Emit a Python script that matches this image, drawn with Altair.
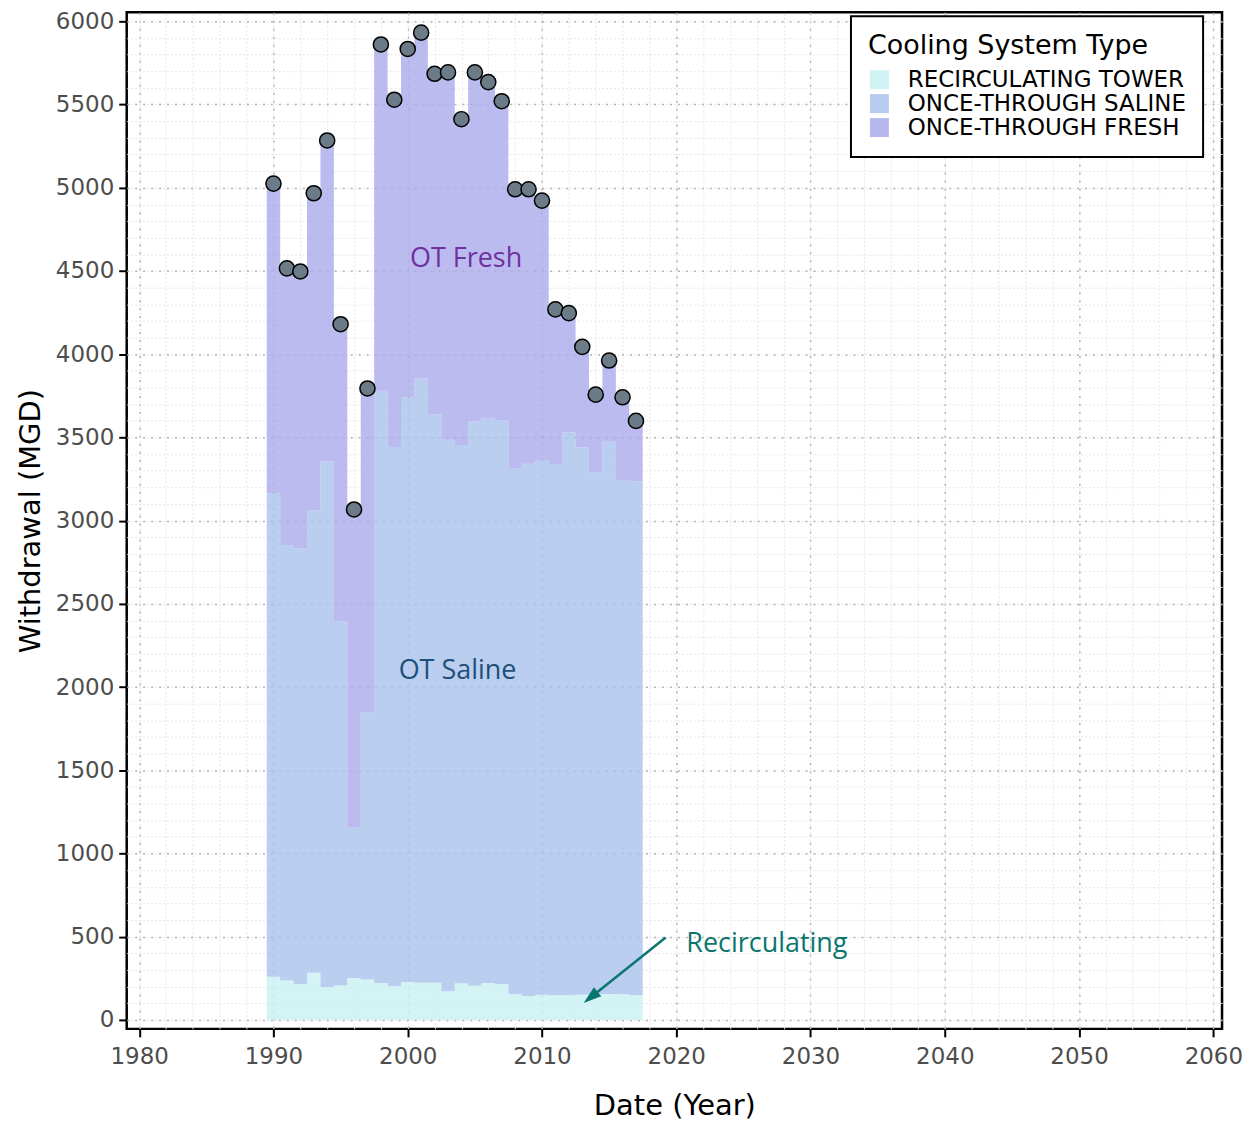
import altair as alt
import pandas as pd

# ---------------- data ----------------
years = list(range(1990, 2018))
types = ["RECIRCULATING TOWER", "ONCE-THROUGH SALINE", "ONCE-THROUGH FRESH"]
recirc = [259, 237, 215, 283, 197, 207, 251, 243, 221, 202, 227, 223, 223, 172,
          220, 205, 221, 215, 154, 144, 151, 148, 148, 151, 154, 156, 154, 148]
saline = [2904, 2616, 2617, 2778, 3159, 2188, 908, 1604, 3560, 3240, 3514, 3631,
          3416, 3314, 3234, 3390, 3394, 3386, 3162, 3198, 3209, 3192, 3381, 3289,
          3136, 3318, 3090, 3088]
fresh = [1862, 1663, 1665, 1906, 1928, 1785, 1908, 1947, 2080, 2087, 2093, 2078,
         2046, 2207, 1958, 2098, 2020, 1919, 1675, 1649, 1563, 929, 718, 604,
         467, 488, 497, 363]

x_ticks = [1980, 1990, 2000, 2010, 2020, 2030, 2040, 2050, 2060]
y_ticks = [0, 500, 1000, 1500, 2000, 2500, 3000, 3500, 4000, 4500, 5000, 5500, 6000]
x_minor = list(range(1980, 2061, 2))
y_minor = list(range(0, 6001, 100))

area_colors = ["#C8F0F2", "#A9C2EC", "#AAAAEC"]

ann_text = ["OT Fresh", "OT Saline", "Recirculating"]
ann_x = [2004.35, 2003.71, 2020.75]
ann_y = [4522, 2050, 405]
ann_color = ["#7030A0", "#1F4E79", "#0B7670"]
arrow_x = [2019.21]
arrow_y = [495]
arrow_x2 = [2013.62]
arrow_y2 = [135]

# ---------------- tables ----------------
rows = []
for order, (t, vals) in enumerate(zip(types, [recirc, saline, fresh])):
    for yr, v in zip(years, vals):
        rows.append({"x": yr - 0.5, "type": t, "order": order, "value": v})
    rows.append({"x": years[-1] + 0.5, "type": t, "order": order, "value": vals[-1]})
area_df = pd.DataFrame(rows)

wide_df = pd.DataFrame({"year": years, "recirc": recirc, "saline": saline, "fresh": fresh})
ann_df = pd.DataFrame({"x": ann_x, "y": ann_y, "t": ann_text, "c": ann_color})
ann_left = ann_df.iloc[2:]
ann_center = ann_df.iloc[:2]
arrow_df = pd.DataFrame({"x": arrow_x, "y": arrow_y, "x2": arrow_x2, "y2": arrow_y2})

xs = alt.Scale(domain=[1979.07, 2060.65], nice=False, zero=False)
ys = alt.Scale(domain=[-54, 6054], nice=False, zero=False)

FONT = "DejaVu Sans"
ANN_FONT = "Open Sans"

x_axis = alt.Axis(orient="bottom", values=x_ticks, format="d", grid=True, gridColor="#b3b3b3",
                  gridDash=[2, 6], gridWidth=1.5, domain=False, tickColor="black",
                  tickWidth=2, tickSize=8, labelFont=FONT, labelFontSize=23,
                  labelColor="#4d4d4d", labelPadding=9, labelFlush=False,
                  title="Date (Year)", titleFont=FONT, titleFontSize=29,
                  titleFontWeight="normal", titleColor="black", titlePadding=23)
y_axis = alt.Axis(orient="left", values=y_ticks, format="d", grid=True, gridColor="#b3b3b3",
                  gridDash=[2, 6], gridWidth=1.5, domain=False, tickColor="black",
                  tickWidth=2, tickSize=8, labelFont=FONT, labelFontSize=23,
                  labelColor="#4d4d4d", labelPadding=5, labelFlush=False,
                  title="Withdrawal (MGD)", titleFont=FONT, titleFontSize=29,
                  titleFontWeight="normal", titleColor="black", titlePadding=10)

minor_x_axis = alt.Axis(orient="top", values=x_minor, grid=True, gridColor="#e6e6e6",
                        gridDash=[2, 2], gridWidth=1, domain=False, ticks=False,
                        labels=False, title=None)
minor_y_axis = alt.Axis(orient="right", values=y_minor, grid=True, gridColor="#e6e6e6",
                        gridDash=[2, 2], gridWidth=1, domain=False, ticks=False,
                        labels=False, title=None)

base_w = alt.Chart(wide_df).transform_calculate(total="datum.recirc + datum.saline + datum.fresh")

minor = base_w.mark_point(opacity=0).encode(
    x=alt.X("year:Q", scale=xs, axis=minor_x_axis),
    y=alt.Y("total:Q", scale=ys, axis=minor_y_axis),
)

area = alt.Chart(area_df).mark_area(interpolate="step-after", opacity=0.8).encode(
    x=alt.X("x:Q", scale=xs, axis=x_axis),
    y=alt.Y("value:Q", stack="zero", scale=ys, axis=y_axis),
    color=alt.Color("type:N", scale=alt.Scale(domain=types, range=area_colors),
                    legend=alt.Legend(title="Cooling System Type", orient="none",
                                      legendX=726, legendY=4, direction="vertical",
                                      fillColor="white", strokeColor="black",
                                      padding=17, symbolType="square", symbolSize=361,
                                      symbolStrokeWidth=0, symbolOpacity=0.85,
                                      labelFont=FONT, labelFontSize=23, labelColor="black",
                                      labelLimit=1000, titleLimit=1000,
                                      titleFont=FONT, titleFontSize=27,
                                      titleFontWeight="normal", titleColor="black",
                                      titlePadding=8, rowPadding=0, labelOffset=17)),
    order=alt.Order("order:Q", sort="ascending"),
)

points = base_w.mark_circle(size=230, color="#6B7B87", stroke="black",
                            strokeWidth=1.5, opacity=1).encode(
    x=alt.X("year:Q", scale=xs, axis=None),
    y=alt.Y("total:Q", scale=ys, axis=None),
)

txt_c = alt.Chart(ann_center).mark_text(font=ANN_FONT, fontSize=27, align="center",
                                        baseline="alphabetic").encode(
    x=alt.X("x:Q", scale=xs, axis=None), y=alt.Y("y:Q", scale=ys, axis=None),
    text="t:N", color=alt.Color("c:N", scale=None))
txt_l = alt.Chart(ann_left).mark_text(font=ANN_FONT, fontSize=27, align="left",
                                      baseline="alphabetic").encode(
    x=alt.X("x:Q", scale=xs, axis=None), y=alt.Y("y:Q", scale=ys, axis=None),
    text="t:N", color=alt.Color("c:N", scale=None))

arrow_line = alt.Chart(arrow_df).mark_rule(color="#0B7670", strokeWidth=2.5).encode(
    x=alt.X("x:Q", scale=xs, axis=None), y=alt.Y("y:Q", scale=ys, axis=None),
    x2="x2:Q", y2="y2:Q")
arrow_head = alt.Chart(arrow_df).mark_point(shape="M0,-1L0.65,1L-0.65,1Z", filled=True,
                                            size=324, angle=231, color="#0B7670",
                                            opacity=1).encode(
    x=alt.X("x2:Q", scale=xs, axis=None), y=alt.Y("y2:Q", scale=ys, axis=None))

chart = alt.layer(minor, area, points, txt_c, txt_l, arrow_line, arrow_head).resolve_axis(
    x="independent", y="independent"
).properties(
    width=1098, height=1019,
    autosize=alt.AutoSizeParams(type="none"),
    padding={"left": 119, "top": 3, "right": 20, "bottom": 95},
).configure_view(
    stroke="black", strokeWidth=2.5
).configure_legend(
    strokeWidth=2
)

chart.save("out.html", embed_options={"renderer": "svg", "actions": False})
